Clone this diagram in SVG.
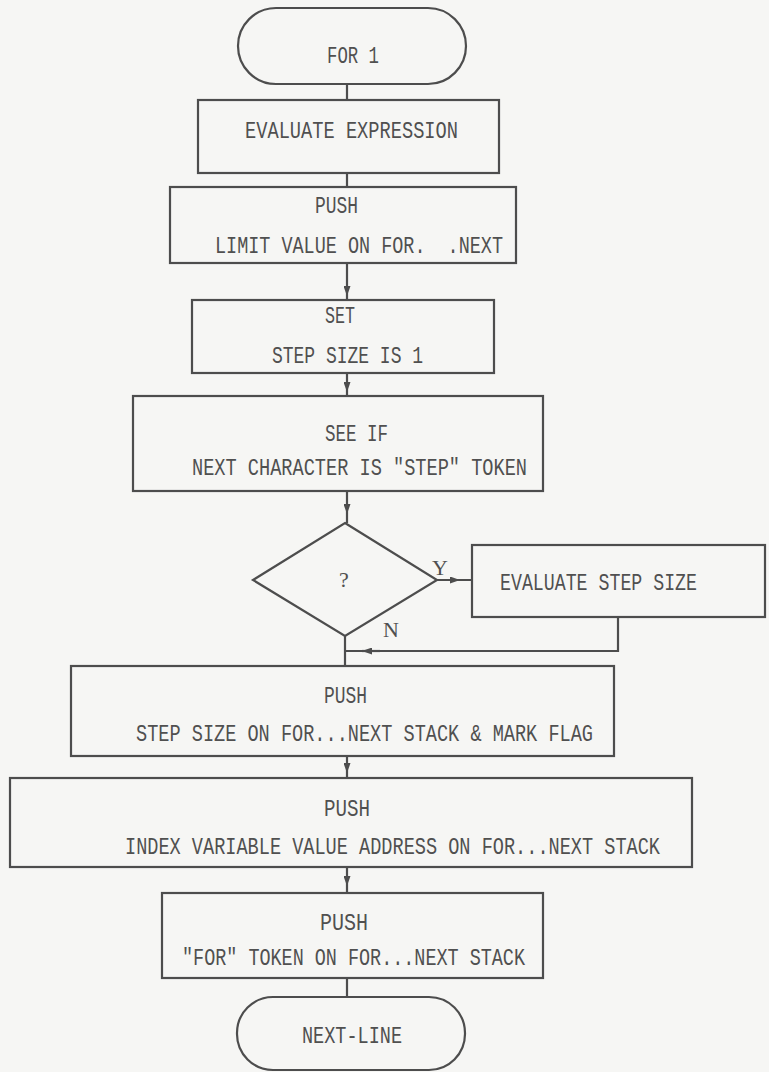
<svg xmlns="http://www.w3.org/2000/svg" width="769" height="1072" viewBox="0 0 769 1072">
<style>
.bx{fill:none;stroke:#4d4d4d;stroke-width:2.2}
.ln{fill:none;stroke:#4d4d4d;stroke-width:2.2}
.t{font-family:"Liberation Mono","DejaVu Sans Mono",monospace;font-size:18.5px;fill:#505050;white-space:pre}
.s{font-family:"Liberation Serif","DejaVu Serif",serif;font-size:22px;fill:#505050}
</style>
<defs>
<marker id="ah" viewBox="0 0 10 7" refX="10" refY="3.5" markerWidth="10" markerHeight="7" markerUnits="userSpaceOnUse" orient="auto">
<path d="M0,0 L10,3.5 L0,7 z" fill="#4d4d4d"/>
</marker>
</defs>
<rect width="769" height="1072" fill="#f6f6f4"/>

<g id="connectors">
<path class="ln" d="M347,84 L347,100"/>
<path class="ln" d="M347,173 L347,187"/>
<path class="ln" d="M347,263 L347,296 L347,300" marker-mid="url(#ah)"/>
<path class="ln" d="M347,373 L347,392 L347,396" marker-mid="url(#ah)"/>
<path class="ln" d="M347,491 L347,514 L347,523" marker-mid="url(#ah)"/>
<path class="ln" d="M437,580 L460,580 L472,580" marker-mid="url(#ah)"/>
<path class="ln" d="M345,636 L345,666"/>
<path class="ln" d="M618,617 L618,651 L345,651"/>
<path class="ln" d="M380,651 L362,651" marker-end="url(#ah)"/>
<path class="ln" d="M347,756 L347,773 L347,778" marker-mid="url(#ah)"/>
<path class="ln" d="M347,867 L347,886 L347,893" marker-mid="url(#ah)"/>
<path class="ln" d="M347,978 L347,997"/>
<text class="s" x="432" y="575">Y</text>
<text class="s" x="383" y="637">N</text>
</g>

<g id="start">
<rect class="bx" x="238" y="8" width="228" height="76" rx="38"/>
<text class="t" transform="matrix(1,0,0,1.3,327,63)" textLength="52" lengthAdjust="spacingAndGlyphs">FOR 1</text>
</g>

<g id="evaluate-expression">
<rect class="bx" x="198" y="100" width="301" height="73"/>
<text class="t" transform="matrix(1,0,0,1.3,245,138)" textLength="213" lengthAdjust="spacingAndGlyphs">EVALUATE EXPRESSION</text>
</g>

<g id="push-limit">
<rect class="bx" x="170" y="187" width="346" height="76"/>
<text class="t" transform="matrix(1,0,0,1.3,315,213)" textLength="43" lengthAdjust="spacingAndGlyphs">PUSH</text>
<text class="t" transform="matrix(1,0,0,1.3,215,253)" textLength="288" lengthAdjust="spacingAndGlyphs">LIMIT VALUE ON FOR.  .NEXT</text>
</g>

<g id="set-step">
<rect class="bx" x="192" y="300" width="302" height="73"/>
<text class="t" transform="matrix(1,0,0,1.3,325,323)" textLength="30" lengthAdjust="spacingAndGlyphs">SET</text>
<text class="t" transform="matrix(1,0,0,1.3,272,363)" textLength="151" lengthAdjust="spacingAndGlyphs">STEP SIZE IS 1</text>
</g>

<g id="see-if">
<rect class="bx" x="133" y="396" width="410" height="95"/>
<text class="t" transform="matrix(1,0,0,1.3,325,441)" textLength="63" lengthAdjust="spacingAndGlyphs">SEE IF</text>
<text class="t" transform="matrix(1,0,0,1.3,192,475)" textLength="335" lengthAdjust="spacingAndGlyphs">NEXT CHARACTER IS "STEP" TOKEN</text>
</g>

<g id="decision">
<polygon class="bx" points="345,523 437,580 345,636 253,580"/>
<text class="s" x="344" y="587" text-anchor="middle">?</text>
</g>

<g id="evaluate-step">
<rect class="bx" x="472" y="545" width="293" height="72"/>
<text class="t" transform="matrix(1,0,0,1.3,500,590)" textLength="197" lengthAdjust="spacingAndGlyphs">EVALUATE STEP SIZE</text>
</g>

<g id="push-step">
<rect class="bx" x="71" y="666" width="543" height="90"/>
<text class="t" transform="matrix(1,0,0,1.3,324,703)" textLength="43" lengthAdjust="spacingAndGlyphs">PUSH</text>
<text class="t" transform="matrix(1,0,0,1.3,136,741)" textLength="457" lengthAdjust="spacingAndGlyphs">STEP SIZE ON FOR...NEXT STACK &amp; MARK FLAG</text>
</g>

<g id="push-index">
<rect class="bx" x="10" y="778" width="682" height="89"/>
<text class="t" transform="matrix(1,0,0,1.3,324,816)" textLength="46" lengthAdjust="spacingAndGlyphs">PUSH</text>
<text class="t" transform="matrix(1,0,0,1.3,125,854)" textLength="535" lengthAdjust="spacingAndGlyphs">INDEX VARIABLE VALUE ADDRESS ON FOR...NEXT STACK</text>
</g>

<g id="push-for-token">
<rect class="bx" x="162" y="893" width="381" height="85"/>
<text class="t" transform="matrix(1,0,0,1.3,320,930)" textLength="48" lengthAdjust="spacingAndGlyphs">PUSH</text>
<text class="t" transform="matrix(1,0,0,1.3,182,965)" textLength="343" lengthAdjust="spacingAndGlyphs">"FOR" TOKEN ON FOR...NEXT STACK</text>
</g>

<g id="next-line">
<rect class="bx" x="237" y="997" width="228" height="73" rx="36"/>
<text class="t" transform="matrix(1,0,0,1.3,302,1043)" textLength="100" lengthAdjust="spacingAndGlyphs">NEXT-LINE</text>
</g>
</svg>
